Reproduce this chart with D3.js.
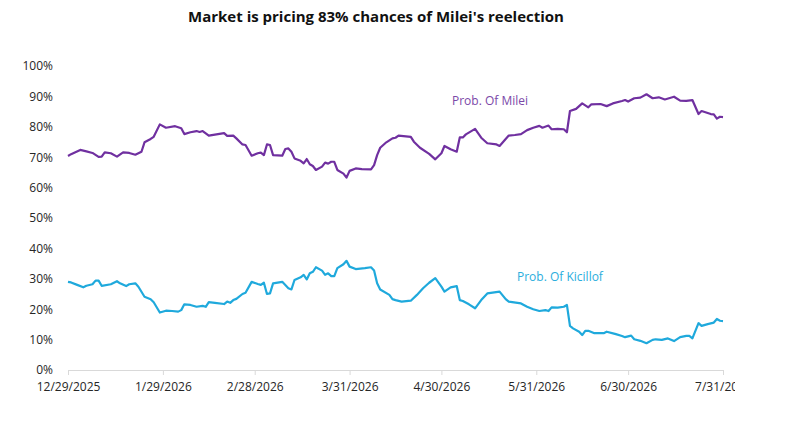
<!DOCTYPE html>
<html>
<head>
<meta charset="utf-8">
<script src="https://cdn.jsdelivr.net/npm/d3@7"></script>
<style>
  body { margin: 0; background: #fff; }
  text { font-family: "Open Sans", sans-serif; }
</style>
</head>
<body>
<div id="chart"></div>
<script>
// values, in %
const mileiDates = ["2025-12-29","2025-12-30","2026-01-02","2026-01-04","2026-01-06","2026-01-08","2026-01-09","2026-01-10","2026-01-12","2026-01-14","2026-01-16","2026-01-18","2026-01-20","2026-01-22","2026-01-23","2026-01-25","2026-01-26","2026-01-28","2026-01-30","2026-02-02","2026-02-04","2026-02-05","2026-02-07","2026-02-09","2026-02-10","2026-02-11","2026-02-13","2026-02-16","2026-02-18","2026-02-19","2026-02-21","2026-02-22","2026-02-24","2026-02-25","2026-02-27","2026-03-01","2026-03-02","2026-03-03","2026-03-04","2026-03-05","2026-03-06","2026-03-09","2026-03-10","2026-03-11","2026-03-12","2026-03-13","2026-03-15","2026-03-16","2026-03-17","2026-03-18","2026-03-19","2026-03-20","2026-03-22","2026-03-23","2026-03-24","2026-03-25","2026-03-26","2026-03-27","2026-03-29","2026-03-30","2026-03-31","2026-04-02","2026-04-04","2026-04-07","2026-04-08","2026-04-09","2026-04-10","2026-04-12","2026-04-14","2026-04-15","2026-04-16","2026-04-20","2026-04-21","2026-04-23","2026-04-26","2026-04-28","2026-04-30","2026-05-01","2026-05-03","2026-05-05","2026-05-06","2026-05-07","2026-05-08","2026-05-11","2026-05-13","2026-05-15","2026-05-18","2026-05-19","2026-05-21","2026-05-22","2026-05-24","2026-05-26","2026-05-28","2026-05-30","2026-06-01","2026-06-02","2026-06-04","2026-06-05","2026-06-07","2026-06-09","2026-06-10","2026-06-11","2026-06-13","2026-06-15","2026-06-17","2026-06-18","2026-06-21","2026-06-23","2026-06-25","2026-06-28","2026-06-29","2026-06-30","2026-07-02","2026-07-04","2026-07-06","2026-07-08","2026-07-10","2026-07-12","2026-07-15","2026-07-17","2026-07-19","2026-07-21","2026-07-23","2026-07-24","2026-07-27","2026-07-28","2026-07-29","2026-07-30","2026-07-31"];
const mileiValues = [70.4,71.0,72.4,71.9,71.4,70.1,70.2,71.6,71.3,70.2,71.6,71.4,70.8,71.8,74.9,76.0,76.7,80.8,79.7,80.2,79.5,77.6,78.2,78.6,78.3,78.6,77.1,77.6,77.9,77.0,77.1,76.2,74.2,74.0,70.5,71.3,71.5,70.7,74.2,74.0,70.7,70.5,72.7,72.9,71.8,69.6,68.8,68.0,69.4,67.7,67.1,65.8,66.9,68.2,67.9,68.5,68.5,65.8,64.6,63.3,65.5,66.3,66.1,66.0,67.4,70.7,73.1,74.9,76.2,76.4,77.1,76.7,75.1,73.1,71.1,69.3,71.3,73.7,72.6,71.8,76.5,76.5,77.5,79.3,76.4,74.6,74.2,73.7,76.0,77.1,77.3,77.6,78.9,79.7,80.3,79.7,80.4,79.2,79.3,79.2,78.2,85.2,85.9,87.7,86.4,87.4,87.5,86.8,87.7,88.5,88.8,88.3,89.4,89.6,90.7,89.4,89.7,89.0,89.9,88.6,88.5,88.8,84.2,85.2,84.2,84.1,82.7,83.3,83.2];

const kicillofDates = ["2025-12-29","2025-12-30","2026-01-01","2026-01-03","2026-01-04","2026-01-06","2026-01-07","2026-01-08","2026-01-09","2026-01-12","2026-01-14","2026-01-15","2026-01-17","2026-01-18","2026-01-20","2026-01-21","2026-01-23","2026-01-25","2026-01-26","2026-01-28","2026-01-30","2026-02-01","2026-02-03","2026-02-04","2026-02-05","2026-02-07","2026-02-09","2026-02-11","2026-02-12","2026-02-13","2026-02-15","2026-02-18","2026-02-19","2026-02-20","2026-02-21","2026-02-22","2026-02-24","2026-02-25","2026-02-27","2026-03-01","2026-03-02","2026-03-03","2026-03-04","2026-03-05","2026-03-06","2026-03-09","2026-03-11","2026-03-12","2026-03-13","2026-03-15","2026-03-16","2026-03-17","2026-03-18","2026-03-19","2026-03-20","2026-03-22","2026-03-23","2026-03-24","2026-03-25","2026-03-26","2026-03-27","2026-03-29","2026-03-30","2026-03-31","2026-04-02","2026-04-05","2026-04-07","2026-04-08","2026-04-09","2026-04-10","2026-04-13","2026-04-14","2026-04-15","2026-04-17","2026-04-20","2026-04-22","2026-04-24","2026-04-26","2026-04-28","2026-04-30","2026-05-01","2026-05-03","2026-05-05","2026-05-06","2026-05-07","2026-05-09","2026-05-11","2026-05-13","2026-05-15","2026-05-19","2026-05-21","2026-05-22","2026-05-26","2026-05-28","2026-05-30","2026-06-01","2026-06-03","2026-06-04","2026-06-05","2026-06-07","2026-06-09","2026-06-10","2026-06-11","2026-06-12","2026-06-14","2026-06-15","2026-06-16","2026-06-17","2026-06-19","2026-06-22","2026-06-23","2026-06-26","2026-06-28","2026-06-29","2026-07-01","2026-07-02","2026-07-04","2026-07-06","2026-07-08","2026-07-09","2026-07-11","2026-07-13","2026-07-15","2026-07-17","2026-07-19","2026-07-20","2026-07-21","2026-07-23","2026-07-24","2026-07-26","2026-07-28","2026-07-29","2026-07-30","2026-07-31"];
const kicillofValues = [29.0,28.8,28.0,27.2,27.7,28.2,29.4,29.4,27.7,28.2,29.2,28.5,27.6,28.2,28.5,27.4,24.1,23.3,22.3,18.9,19.5,19.4,19.2,19.7,21.6,21.4,20.8,21.1,20.8,22.3,22.1,21.7,22.5,22.1,23.0,23.4,25.0,25.4,29.0,28.3,28.0,28.7,25.0,25.2,28.5,29.0,26.9,26.5,29.6,30.5,31.3,29.8,31.8,32.3,33.8,32.7,31.3,31.8,30.9,30.9,33.5,34.8,35.9,34.0,33.2,33.5,33.8,32.7,28.5,26.5,24.7,23.3,23.0,22.5,22.8,24.7,26.9,28.7,30.2,27.4,25.8,27.2,27.6,23.0,22.7,21.6,20.3,23.0,25.2,25.8,23.3,22.5,21.9,20.8,20.0,19.4,19.7,19.4,20.6,20.5,20.8,21.4,14.5,13.7,12.6,11.5,12.9,12.9,12.1,12.1,12.6,11.8,11.2,10.8,11.3,10.1,9.6,8.8,9.9,10.1,9.9,10.4,9.5,10.8,11.2,11.2,10.4,15.4,14.5,15.1,15.6,16.8,16.2,16.1];

const xTickDates = ["2025-12-29","2026-01-29","2026-02-28","2026-03-31","2026-04-30","2026-05-31","2026-06-30","2026-07-31"];
const yTickValues = [0,10,20,30,40,50,60,70,80,90,100];
const seriesNames = ["Prob. Of Milei", "Prob. Of Kicillof"];

const options = {
    width: 800,
    height: 421,
    left: 68,
    right: 723,
    top: 66,
    bottom: 370
};

const colors = { milei: "#7030A0", kicillof: "#1FA9DC" };

const parse = d3.utcParse("%Y-%m-%d");
const fmt = d3.utcFormat("%-m/%-d/%Y");

const x = d3.scaleUtc()
    .domain([parse(xTickDates[0]), parse(xTickDates[xTickDates.length - 1])])
    .range([options.left, options.right]);

const y = d3.scaleLinear()
    .domain([0, 100])
    .range([options.bottom, options.top]);

const svg = d3.select('#chart').append('svg')
    .attr('width', options.width)
    .attr('height', options.height);

// the picture is cut on the right side
svg.append('clipPath').attr('id', 'cut')
    .append('rect').attr('x', 0).attr('y', 0).attr('width', 735).attr('height', options.height);

svg.append('text')
    .attr('x', 376)
    .attr('y', 22)
    .attr('text-anchor', 'middle')
    .style('font-size', '15px')
    .style('font-weight', 'bold')
    .attr('fill', '#111')
    .text("Market is pricing 83% chances of Milei's reelection");

const yAxis = svg.append('g')
    .attr('transform', `translate(${options.left},0)`)
    .call(d3.axisLeft(y).tickValues(yTickValues).tickFormat(d => d + '%').tickSize(0).tickPadding(15));
yAxis.select('.domain').remove();
yAxis.selectAll('text').style('font-size', '12px').attr('fill', '#262626');

const xAxis = svg.append('g')
    .attr('clip-path', 'url(#cut)')
    .attr('transform', `translate(0,${options.bottom})`)
    .call(d3.axisBottom(x).tickValues(xTickDates.map(parse)).tickFormat(fmt).tickSize(5).tickPadding(7));
xAxis.select('.domain').attr('stroke', '#d9d9d9');
xAxis.selectAll('line').attr('stroke', '#d9d9d9');
xAxis.selectAll('text').style('font-size', '12px').attr('fill', '#262626');

const line = d3.line()
    .x(d => x(d[0]))
    .y(d => y(d[1]));

const mileiData = mileiDates.map((d, i) => [parse(d), mileiValues[i]]);
const kicillofData = kicillofDates.map((d, i) => [parse(d), kicillofValues[i]]);

svg.append('path')
    .datum(mileiData)
    .attr('fill', 'none')
    .attr('stroke', colors.milei)
    .attr('stroke-width', 2.2)
    .attr('stroke-linejoin', 'round')
    .attr('d', line);

svg.append('path')
    .datum(kicillofData)
    .attr('fill', 'none')
    .attr('stroke', colors.kicillof)
    .attr('stroke-width', 2.2)
    .attr('stroke-linejoin', 'round')
    .attr('d', line);

// series labels
svg.append('text')
    .attr('x', 452)
    .attr('y', 105)
    .style('font-size', '12px')
    .attr('fill', '#7B48A8')
    .text(seriesNames[0]);

svg.append('text')
    .attr('x', 517)
    .attr('y', 281)
    .style('font-size', '12px')
    .attr('fill', '#2BAEDD')
    .text(seriesNames[1]);
</script>
</body>
</html>
